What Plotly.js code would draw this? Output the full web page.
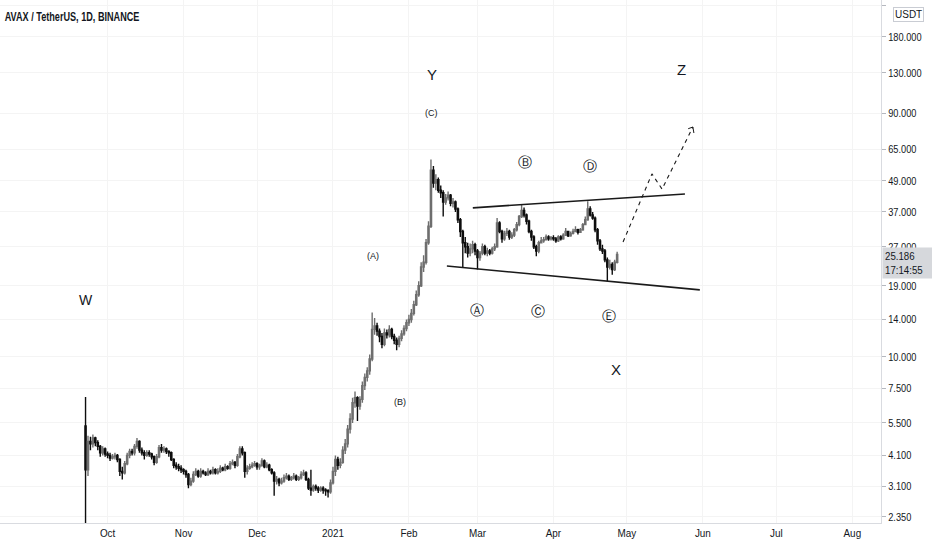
<!DOCTYPE html>
<html><head><meta charset="utf-8">
<script src="https://cdn.plot.ly/plotly-3.0.1.min.js"></script>
<style>html,body{margin:0;padding:0;background:#fff;} #chart{width:932px;height:550px;}</style>
</head><body><div id="chart"></div>
<script>
// Daily candles AVAX/USDT, 2020-09-22 .. 2021-04-27
const firstDay = [2020, 8, 22];
const openP = [
  5.35, 3.60, 4.65, 4.55, 4.80, 4.60, 4.45, 4.20, 4.35,
  4.15, 4.10, 4.00, 4.05, 4.10, 3.95, 3.55, 3.50, 3.80, 4.10, 4.25, 4.20, 4.45, 4.65, 4.30, 4.20, 4.10, 4.20, 4.15, 4.05, 3.85, 4.05, 4.40, 4.30, 4.35, 4.25, 4.20, 3.95, 3.75, 3.70, 3.65,
  3.60, 3.55, 3.45, 3.15, 3.25, 3.45, 3.55, 3.40, 3.55, 3.50, 3.45, 3.55, 3.50, 3.60, 3.50, 3.55, 3.65, 3.60, 3.70, 3.65, 3.80, 3.85, 3.75, 4.05, 4.35, 4.20, 3.55, 3.65, 3.70, 3.75,
  3.80, 3.70, 3.75, 3.90, 3.70, 3.75, 3.60, 3.50, 3.25, 3.30, 3.20, 3.25, 3.35, 3.40, 3.30, 3.35, 3.40, 3.30, 3.35, 3.45, 3.50, 3.30, 3.05, 3.00, 3.10, 3.05, 3.00, 3.05, 3.00, 2.98, 2.95,
  3.20, 3.55, 3.95, 3.75, 3.85, 4.30, 4.55, 5.20, 5.70, 6.60, 6.90, 6.40, 6.80, 7.70, 8.30, 8.80, 9.80, 12.80, 13.20, 12.60, 12.00, 11.20, 12.40, 12.20, 12.80, 12.00, 11.60, 11.20, 11.80, 12.30, 12.90,
  13.6, 14.0, 14.8, 16.0, 17.5, 19.0, 22.5, 23.5, 28.0, 32.5, 54.0, 48.0, 49.5, 45.0, 44.0, 40.5, 42.0, 43.0, 40.0, 40.5, 38.0, 34.5, 31.0, 28.0, 27.0, 25.5, 26.5, 27.5,
  26.0, 24.5, 25.5, 27.0, 25.5, 26.0, 25.5, 26.5, 27.0, 33.5, 31.0, 29.0, 30.5, 31.0, 29.5, 30.0, 31.5, 33.0, 35.5, 37.5, 36.0, 34.0, 31.0, 29.5, 27.0, 26.0, 28.0, 28.5, 28.8, 29.5, 29.0,
  29.3, 29.0, 28.5, 29.5, 29.0, 30.0, 31.0, 29.8, 30.5, 31.0, 31.5, 30.8, 31.5, 33.0, 34.5, 38.0, 36.0, 35.0, 31.5, 28.5, 26.5, 26.0, 24.0, 22.5, 23.0, 22.0, 23.5
];
const highP = [
  6.95, 4.90, 4.85, 4.95, 4.85, 4.70, 4.50, 4.45, 4.40,
  4.25, 4.20, 4.15, 4.20, 4.15, 4.00, 3.70, 3.90, 4.20, 4.35, 4.35, 4.55, 4.80, 4.70, 4.40, 4.30, 4.30, 4.30, 4.20, 4.10, 4.15, 4.50, 4.55, 4.45, 4.40, 4.30, 4.25, 4.00, 3.85, 3.80, 3.75,
  3.65, 3.60, 3.50, 3.35, 3.55, 3.65, 3.60, 3.65, 3.60, 3.55, 3.65, 3.60, 3.70, 3.65, 3.65, 3.75, 3.70, 3.80, 3.75, 3.90, 3.95, 3.90, 4.15, 4.45, 4.45, 4.25, 3.75, 3.80, 3.85, 3.90,
  3.85, 3.80, 4.00, 3.95, 3.85, 3.80, 3.65, 3.55, 3.40, 3.35, 3.35, 3.45, 3.50, 3.45, 3.40, 3.50, 3.45, 3.40, 3.55, 3.60, 3.55, 3.35, 3.60, 3.15, 3.15, 3.10, 3.10, 3.10, 3.05, 3.02, 3.30,
  3.70, 4.10, 4.05, 4.00, 4.45, 4.75, 5.40, 6.00, 6.90, 7.30, 7.00, 7.00, 8.00, 8.60, 9.10, 10.20, 14.90, 14.20, 13.60, 12.90, 12.40, 12.90, 12.80, 13.30, 13.00, 12.30, 11.90, 12.10, 12.70, 13.30, 14.00,
  14.6, 15.4, 16.6, 18.2, 19.8, 23.5, 25.0, 29.0, 34.0, 59.5, 56.0, 52.0, 50.5, 47.0, 45.0, 43.5, 44.5, 43.5, 42.0, 41.0, 38.5, 35.0, 31.5, 29.5, 28.0, 27.8, 28.5, 28.0,
  26.5, 26.0, 27.8, 27.5, 26.8, 26.5, 27.0, 27.8, 35.0, 34.0, 31.5, 31.2, 32.0, 31.5, 30.8, 32.0, 33.8, 36.0, 39.5, 38.5, 36.5, 34.5, 31.5, 30.0, 27.5, 28.5, 29.5, 29.5, 30.2, 30.0, 29.8,
  30.0, 29.5, 30.0, 30.0, 30.5, 32.0, 31.2, 31.0, 31.8, 32.5, 31.8, 32.0, 33.5, 35.5, 40.8, 39.0, 37.0, 35.5, 32.0, 29.0, 27.5, 26.5, 24.5, 24.0, 23.5, 24.0, 25.8
];
const lowP = [
  2.10, 3.40, 4.30, 4.40, 4.45, 4.30, 4.05, 4.10, 4.05,
  4.00, 3.90, 3.95, 3.95, 3.85, 3.40, 3.30, 3.45, 3.75, 4.00, 4.10, 4.10, 4.35, 4.20, 4.10, 3.95, 4.05, 4.05, 3.95, 3.75, 3.80, 4.00, 4.20, 4.20, 4.15, 4.05, 3.90, 3.65, 3.60, 3.55, 3.50,
  3.45, 3.35, 3.05, 3.10, 3.20, 3.40, 3.35, 3.35, 3.45, 3.40, 3.40, 3.45, 3.45, 3.45, 3.45, 3.50, 3.55, 3.55, 3.60, 3.60, 3.75, 3.65, 3.70, 4.00, 4.10, 3.35, 3.45, 3.60, 3.65, 3.70,
  3.60, 3.60, 3.70, 3.65, 3.65, 3.55, 3.45, 2.85, 3.15, 3.10, 3.15, 3.20, 3.30, 3.25, 3.25, 3.30, 3.25, 3.25, 3.30, 3.40, 3.25, 3.00, 2.85, 2.95, 2.98, 2.92, 2.95, 2.90, 2.85, 2.80, 2.90,
  3.15, 3.40, 3.60, 3.65, 3.80, 4.15, 4.40, 5.00, 5.50, 6.30, 5.60, 6.20, 6.60, 7.40, 8.00, 8.50, 9.60, 12.20, 12.10, 11.40, 10.80, 11.00, 11.80, 11.90, 11.70, 11.20, 10.60, 10.90, 11.50, 12.10, 12.60,
  13.2, 13.6, 14.5, 15.8, 17.2, 18.8, 21.5, 23.0, 27.5, 32.0, 46.0, 45.0, 44.0, 42.0, 35.5, 39.5, 41.0, 39.0, 38.5, 37.0, 33.5, 29.5, 22.3, 25.5, 24.5, 24.8, 25.5, 25.0,
  22.0, 23.8, 25.0, 25.0, 24.8, 25.0, 25.2, 26.0, 26.8, 30.5, 28.0, 28.5, 29.8, 28.8, 29.0, 29.5, 31.0, 32.5, 35.0, 35.2, 33.0, 30.5, 28.5, 26.5, 24.8, 25.5, 27.8, 28.0, 28.6, 28.5, 28.6,
  28.5, 28.0, 28.2, 28.6, 28.8, 29.8, 29.5, 29.6, 30.2, 30.8, 30.2, 30.6, 31.2, 32.8, 34.2, 35.5, 34.5, 30.8, 27.5, 26.0, 25.3, 23.5, 19.8, 22.0, 21.0, 21.7, 23.2
];
const closeP = [
  3.60, 4.65, 4.55, 4.80, 4.60, 4.45, 4.20, 4.35, 4.15,
  4.10, 4.00, 4.05, 4.10, 3.95, 3.55, 3.50, 3.80, 4.10, 4.25, 4.20, 4.45, 4.65, 4.30, 4.20, 4.10, 4.20, 4.15, 4.05, 3.85, 4.05, 4.40, 4.30, 4.35, 4.25, 4.20, 3.95, 3.75, 3.70, 3.65, 3.60,
  3.55, 3.45, 3.15, 3.25, 3.45, 3.55, 3.40, 3.55, 3.50, 3.45, 3.55, 3.50, 3.60, 3.50, 3.55, 3.65, 3.60, 3.70, 3.65, 3.80, 3.85, 3.75, 4.05, 4.35, 4.20, 3.55, 3.65, 3.70, 3.75, 3.80,
  3.70, 3.75, 3.90, 3.70, 3.75, 3.60, 3.50, 3.25, 3.30, 3.20, 3.25, 3.35, 3.40, 3.30, 3.35, 3.40, 3.30, 3.35, 3.45, 3.50, 3.30, 3.05, 3.00, 3.10, 3.05, 3.00, 3.05, 3.00, 2.98, 2.95, 3.20,
  3.55, 3.95, 3.75, 3.85, 4.30, 4.55, 5.20, 5.70, 6.60, 6.90, 6.40, 6.80, 7.70, 8.30, 8.80, 9.80, 12.80, 13.20, 12.60, 12.00, 11.20, 12.40, 12.20, 12.80, 12.00, 11.60, 11.20, 11.80, 12.30, 12.90, 13.60,
  14.0, 14.8, 16.0, 17.5, 19.0, 22.5, 23.5, 28.0, 32.5, 54.0, 48.0, 49.5, 45.0, 44.0, 40.5, 42.0, 43.0, 40.0, 40.5, 38.0, 34.5, 31.0, 28.0, 27.0, 25.5, 26.5, 27.5, 26.0,
  24.5, 25.5, 27.0, 25.5, 26.0, 25.5, 26.5, 27.0, 33.5, 31.0, 29.0, 30.5, 31.0, 29.5, 30.0, 31.5, 33.0, 35.5, 37.5, 36.0, 34.0, 31.0, 29.5, 27.0, 26.0, 28.0, 28.5, 28.8, 29.5, 29.0, 29.3,
  29.0, 28.5, 29.5, 29.0, 30.0, 31.0, 29.8, 30.5, 31.0, 31.5, 30.8, 31.5, 33.0, 34.5, 38.0, 36.0, 35.0, 31.5, 28.5, 26.5, 26.0, 24.0, 22.5, 23.0, 22.0, 23.5, 25.186
];

const lastPrice = 25.186;
const lastPriceText = '25.186';
const countdownText = '17:14:55';

// price axis ticks
const yTickVals = [2.35, 3.1, 4.1, 5.5, 7.5, 10, 14, 19, 27, 37, 49, 65, 90, 130, 180, 240];
const yTickText = ['2.350','3.100','4.100','5.500','7.500','10.000','14.000','19.000','27.000','37.000','49.000','65.000','90.000','130.000','180.000','240.000'];
// time axis ticks
const xTickVals = ['2020-10-01','2020-11-01','2020-12-01','2021-01-01','2021-02-01','2021-03-01','2021-04-01','2021-05-01','2021-06-01','2021-07-01','2021-08-01'];
const xTickText = ['Oct','Nov','Dec','2021','Feb','Mar','Apr','May','Jun','Jul','Aug'];

// drawings (triangle boundaries & projected path)
const upperX = ['2021-02-27 02:00', '2021-05-24 16:00'];
const upperY = [38.4, 43.5];
const lowerX = ['2021-02-16 12:00', '2021-05-30 18:00'];
const lowerY = [22.7, 18.3];
const projX = ['2021-04-29 10:00', '2021-05-11 05:00', '2021-05-15 08:00', '2021-05-27 22:00'];
const projY = [28.2, 52.2, 45.5, 79.7];
const arrowX = ['2021-05-26 00:00', '2021-05-27 22:00', '2021-05-28 08:00'];
const arrowY = [78.5, 79.7, 75.5];

// wave labels
const waveText = ['W', 'Y', '(C)', '(A)', '(B)', 'Z', 'X', '\u24B6', '\u24B7', '\u24B8', '\u24B9', '\u24BA'];
const waveX = ['2020-09-22', '2021-02-10 10:00', '2021-02-10 10:00', '2021-01-17 07:00', '2021-01-28 07:00', '2021-05-23 10:00', '2021-04-26 12:00', '2021-02-28 18:00', '2021-03-20 10:00', '2021-03-25 16:00', '2021-04-15 22:00', '2021-04-23 16:00'];
const waveY = [16.7, 127.6, 90.5, 24.9, 6.64, 133.5, 8.95, 15.3, 58.1, 15.1, 56.1, 14.5];
const waveSize = [14, 15, 9, 9, 9, 15, 15, 14, 14, 14, 14, 14];

const dates = openP.map((_, i) => new Date(Date.UTC(firstDay[0], firstDay[1], firstDay[2] + i)).toISOString().slice(0, 10));

const FONT = 'Liberation Sans, Arial, sans-serif';
const TXT = '#131722';

const traces = [
  {
    type: 'candlestick', x: dates, open: openP, high: highP, low: lowP, close: closeP,
    increasing: {line: {color: '#6e6e6e', width: 1.4}, fillcolor: '#a3a3a3'},
    decreasing: {line: {color: '#0d0d0d', width: 1.4}, fillcolor: '#0d0d0d'},
    whiskerwidth: 0, hoverinfo: 'skip'
  },
  {type: 'scatter', mode: 'lines', x: upperX, y: upperY, line: {color: '#1a1a1a', width: 1.6}, hoverinfo: 'skip'},
  {type: 'scatter', mode: 'lines', x: lowerX, y: lowerY, line: {color: '#1a1a1a', width: 1.6}, hoverinfo: 'skip'},
  {type: 'scatter', mode: 'lines', x: projX, y: projY, line: {color: '#1a1a1a', width: 1.1, dash: '4px,4px'}, hoverinfo: 'skip'},
  {type: 'scatter', mode: 'lines', x: arrowX, y: arrowY, line: {color: '#1a1a1a', width: 1}, hoverinfo: 'skip'}
];

const annotations = waveText.map((t, i) => ({
  text: t, x: waveX[i], y: Math.log10(waveY[i]), xref: 'x', yref: 'y',
  showarrow: false, xanchor: 'center', yanchor: 'middle',
  font: {family: t.charCodeAt(0) > 0x2000 ? 'DejaVu Sans, sans-serif' : FONT, size: waveSize[i], color: TXT}
}));
annotations.push({
  text: lastPriceText + '<br>' + countdownText, xref: 'paper', yref: 'y', x: 1, y: Math.log10(lastPrice),
  xanchor: 'left', yanchor: 'top', yshift: 8, xshift: 1, showarrow: false, align: 'left',
  bgcolor: '#d6d8dc', borderpad: 2, width: 46,
  font: {family: FONT, size: 11, color: TXT}
});
annotations.push({
  text: 'USDT', xref: 'paper', yref: 'paper', x: 1, y: 1, xanchor: 'left', yanchor: 'top',
  xshift: 12, yshift: -7, showarrow: false, bgcolor: '#ffffff', bordercolor: '#c9ccd3', borderwidth: 1, borderpad: 1,
  font: {family: FONT, size: 10, color: TXT}
});

const layout = {
  width: 932, height: 550,
  margin: {l: 0, r: 51, t: 0, b: 27},
  paper_bgcolor: '#ffffff', plot_bgcolor: '#ffffff',
  showlegend: false,
  font: {family: FONT, color: TXT, size: 11},
  title: {text: '<b>AVAX / TetherUS, 1D, BINANCE</b>', x: 0.005, xanchor: 'left', y: 0.969, yanchor: 'middle',
          font: {family: FONT, size: 12, color: TXT}},
  xaxis: {
    type: 'date', range: ['2020-08-18 02:00', '2021-08-12 17:00'],
    tickmode: 'array', tickvals: xTickVals, ticktext: xTickText,
    showgrid: true, gridcolor: '#f4f4f4', showline: true, linecolor: '#d9dbe0', linewidth: 1,
    ticks: '', zeroline: false, rangeslider: {visible: false}, fixedrange: true,
    tickfont: {family: FONT, size: 11, color: TXT}
  },
  yaxis: {
    type: 'log', side: 'right', range: [0.3475, 2.400],
    tickmode: 'array', tickvals: yTickVals, ticktext: yTickText,
    showgrid: true, gridcolor: '#f4f4f4', showline: true, linecolor: '#d9dbe0', linewidth: 1,
    ticks: 'outside', ticklen: 4, tickcolor: '#b5b8bf', zeroline: false, fixedrange: true,
    tickfont: {family: FONT, size: 11, color: TXT}
  },
  annotations: annotations
};

// narrow the UI texts horizontally, as in the reference screenshot
function squeeze(el, f) {
  const lines = el.querySelectorAll('tspan.line');
  const targets = lines.length ? Array.from(lines) : [el];
  targets.forEach(t => {
    const w = t.getComputedTextLength();
    if (w > 0) {
      t.setAttribute('textLength', (w * f).toFixed(2));
      t.setAttribute('lengthAdjust', 'spacingAndGlyphs');
    }
  });
}

const gd = document.getElementById('chart');
Plotly.newPlot(gd, traces, layout, {staticPlot: true, displayModeBar: false}).then(() => {
  gd.querySelectorAll('.ytick text').forEach(el => squeeze(el, 0.84));
  gd.querySelectorAll('.xtick text').forEach(el => squeeze(el, 0.9));
  gd.querySelectorAll('.gtitle').forEach(el => squeeze(el, 0.76));
  const ann = gd.querySelectorAll('.annotation-text');
  squeeze(ann[ann.length - 2], 0.88);
});
</script>
</body></html>
